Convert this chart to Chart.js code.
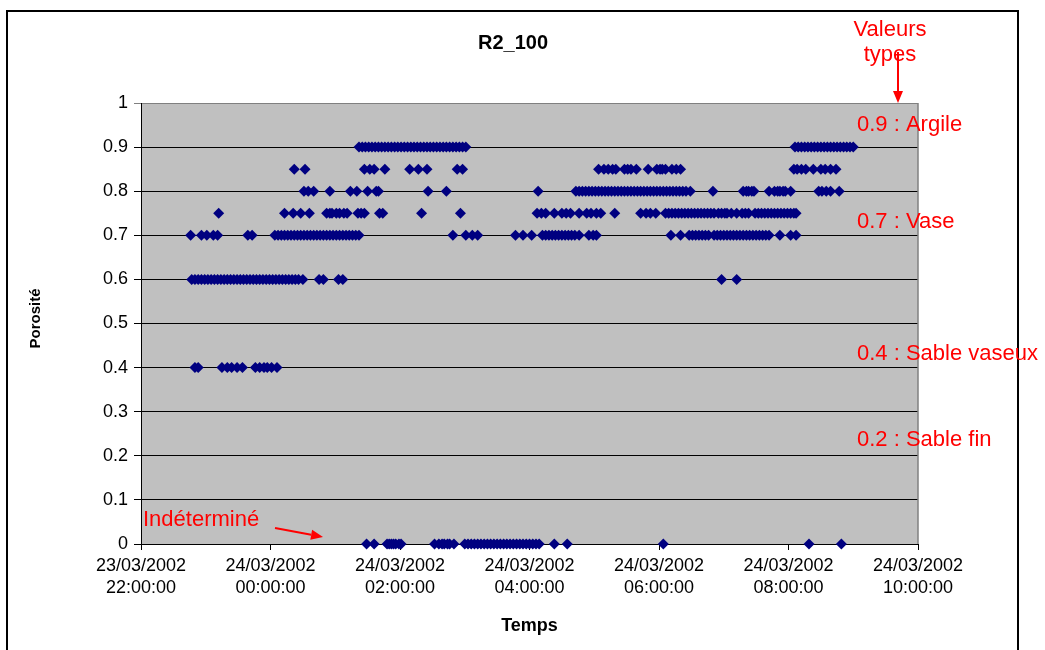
<!DOCTYPE html>
<html>
<head>
<meta charset="utf-8">
<script src="https://cdn.jsdelivr.net/npm/chart.js@4.4.1/dist/chart.umd.min.js"></script>
<style>
  html, body { margin: 0; padding: 0; background: #fff; }
</style>
</head>
<body>
<canvas id="chartR2" width="1045" height="650"></canvas>
<script>
// times are minutes after 23/03/2002 22:00:00
var levels = [0.9, 0.85, 0.8, 0.75, 0.7, 0.6, 0.4, 0];
var t90 = [202,205,208,211,214,217,220,223,226,229,232,235,238,241,244,247,250,253,256,259,262,265,268,271,274,277,280,283,286,289,292,295,298,301,
           606,609,612,615,618,621,624,627,630,633,636,639,642,645,648,651,654,657,660];
var t85 = [142,152,207,212,216,226,249,257,265,293,298,424,429,433,437,440,448,451,454,459,470,478,481,483,486,492,496,500,
           605,608,612,616,623,630,634,639,644];
var t80 = [151,155,160,175,194,200,210,218,220,266,283,368,
           403,406,409,412,415,418,421,424,427,430,433,436,439,442,445,448,451,454,457,460,463,466,469,472,475,478,481,484,487,490,493,496,499,502,505,509,
           530,558,561,563,566,568,582,587,590,592,595,597,602,628,631,635,639,647];
var t75 = [72,133,141,148,156,172,175,177,181,184,188,191,201,204,207,221,224,260,296,367,371,375,383,390,394,398,406,413,417,422,426,439,
           463,468,472,477,486,489,492,495,498,501,504,507,510,513,516,519,522,525,528,531,535,538,541,543,547,552,557,560,563,
           569,572,575,578,581,584,587,590,593,596,599,602,605,607];
var t70 = [46,56,61,67,71,99,103,
           124,127,130,133,136,139,142,145,148,151,154,157,160,163,166,169,172,175,178,181,184,187,190,193,196,199,202,
           289,301,307,312,347,354,362,372,375,378,381,384,387,390,393,396,399,402,406,415,419,422,
           491,500,508,511,514,517,520,523,526,531,534,537,540,543,546,549,552,555,558,561,564,567,570,573,576,579,582,
           592,602,607];
var t60 = [47,50,53,56,59,62,65,68,71,74,77,80,83,86,89,92,95,98,101,104,107,110,113,116,119,122,125,128,131,134,137,140,143,146,150,
           165,169,183,187,538,552];
var t40 = [50,53,75,80,84,89,94,106,110,114,117,121,126];
var t00 = [209,216,228,230,232,234,236,239,241,272,276,279,281,284,286,290,
           300,303,306,309,312,315,318,321,324,327,330,333,336,339,342,345,348,351,354,357,360,363,366,369,
           383,395,484,619,649];
var timesByLevel = [t90, t85, t80, t75, t70, t60, t40, t00];

var xTickMinutes = [0, 120, 240, 360, 480, 600, 720];
var xTickLabels = [
    ['23/03/2002', '22:00:00'], ['24/03/2002', '00:00:00'], ['24/03/2002', '02:00:00'],
    ['24/03/2002', '04:00:00'], ['24/03/2002', '06:00:00'], ['24/03/2002', '08:00:00'],
    ['24/03/2002', '10:00:00']
];
var yTickLabels = ['0', '0.1', '0.2', '0.3', '0.4', '0.5', '0.6', '0.7', '0.8', '0.9', '1'];
var typeLabels = [
    { text: '0.9 : Argile', y: 0.95 },
    { text: '0.7 : Vase', y: 0.73 },
    { text: '0.4 : Sable vaseux', y: 0.43 },
    { text: '0.2 : Sable fin', y: 0.235 }
];

var points = [];
for (var i = 0; i < levels.length; i++) {
    for (var j = 0; j < timesByLevel[i].length; j++) {
        points.push({ x: timesByLevel[i][j], y: levels[i] });
    }
}

var FONT = "'Liberation Sans', Arial, sans-serif";

function arrow(ctx, x1, y1, x2, y2) {
    var a = Math.atan2(y2 - y1, x2 - x1);
    var hl = 12, hw = 5;
    var bx = x2 - hl * Math.cos(a), by = y2 - hl * Math.sin(a);
    ctx.beginPath();
    ctx.moveTo(x1, y1);
    ctx.lineTo(bx, by);
    ctx.stroke();
    ctx.beginPath();
    ctx.moveTo(x2, y2);
    ctx.lineTo(bx + hw * Math.sin(a), by - hw * Math.cos(a));
    ctx.lineTo(bx - hw * Math.sin(a), by + hw * Math.cos(a));
    ctx.closePath();
    ctx.fill();
}

var decor = {
    id: 'decor',
    beforeDraw: function (chart) {
        var ctx = chart.ctx, a = chart.chartArea;
        ctx.save();
        ctx.fillStyle = '#fff';
        ctx.fillRect(0, 0, chart.width, chart.height);
        ctx.fillStyle = '#C0C0C0';
        ctx.fillRect(a.left, a.top, a.right - a.left, a.bottom - a.top);
        ctx.restore();
    },
    beforeDatasetsDraw: function (chart) {
        var ctx = chart.ctx, a = chart.chartArea;
        ctx.save();
        ctx.strokeStyle = '#808080';
        ctx.lineWidth = 1.5;
        ctx.beginPath();
        ctx.moveTo(a.right, a.top);
        ctx.lineTo(a.right, a.bottom);
        ctx.stroke();
        ctx.restore();
    },
    afterDraw: function (chart) {
        var ctx = chart.ctx, a = chart.chartArea, ys = chart.scales.y;
        ctx.save();
        // outer frame
        ctx.strokeStyle = '#000';
        ctx.lineWidth = 2;
        ctx.strokeRect(7, 11, 1011, 700);

        ctx.fillStyle = '#000';
        ctx.textAlign = 'center';
        ctx.textBaseline = 'middle';
        ctx.font = 'bold 20px ' + FONT;
        ctx.fillText('R2_100', 513, 43);
        ctx.font = 'bold 18px ' + FONT;
        ctx.fillText('Temps', (a.left + a.right) / 2, 626);
        ctx.save();
        ctx.translate(36, (a.top + a.bottom) / 2 - 5);
        ctx.rotate(-Math.PI / 2);
        ctx.font = 'bold 15px ' + FONT;
        ctx.fillText('Porosité', 0, 0);
        ctx.restore();

        // red annotations
        ctx.fillStyle = '#FF0000';
        ctx.strokeStyle = '#FF0000';
        ctx.lineWidth = 2;
        ctx.font = '22px ' + FONT;
        ctx.fillText('Valeurs', 890, 30);
        ctx.fillText('types', 890, 55);
        arrow(ctx, 898, 52, 898, a.top);
        ctx.textAlign = 'left';
        typeLabels.forEach(function (l) {
            ctx.fillText(l.text, 857, ys.getPixelForValue(l.y));
        });
        ctx.fillText('Indéterminé', 143, 520);
        arrow(ctx, 275, 528, 323, 537);
        ctx.restore();
    }
};

var ctxR2 = document.getElementById('chartR2');
var chartR2 = new Chart(ctxR2, {
    type: 'scatter',
    data: {
        datasets: [{
            label: 'R2_100',
            data: points,
            pointStyle: 'rectRot',
            pointRadius: 5.5,
            pointBorderWidth: 0,
            backgroundColor: '#000080',
            borderColor: '#000080',
            clip: false
        }]
    },
    options: {
        responsive: false,
        animation: false,
        layout: { padding: { top: 103, right: 127, bottom: 0, left: 0 } },
        plugins: {
            legend: { display: false },
            title: { display: false },
            tooltip: { enabled: false }
        },
        scales: {
            x: {
                type: 'linear',
                min: 0,
                max: 720,
                afterFit: function (s) { s.height = 106; },
                afterBuildTicks: function (s) {
                    s.ticks = xTickMinutes.map(function (v) { return { value: v }; });
                },
                ticks: {
                    autoSkip: false,
                    maxRotation: 0,
                    padding: 6,
                    color: '#000',
                    font: { family: FONT, size: 18, lineHeight: 1.17 },
                    callback: function (v, i) { return xTickLabels[i]; }
                },
                grid: { drawOnChartArea: false, drawTicks: true, tickLength: 6, color: '#000' },
                border: { color: '#000', width: 1 }
            },
            y: {
                min: 0,
                max: 1,
                afterFit: function (s) { s.width = 141; },
                ticks: {
                    stepSize: 0.1,
                    padding: 6,
                    color: '#000',
                    font: { family: FONT, size: 18 },
                    callback: function (v, i) { return yTickLabels[i]; }
                },
                grid: {
                    tickLength: 7,
                    color: function (c) { return c.index === 10 ? '#808080' : '#000'; },
                    lineWidth: 1
                },
                border: { color: '#000', width: 1 }
            }
        }
    },
    plugins: [decor]
});
</script>
</body>
</html>
